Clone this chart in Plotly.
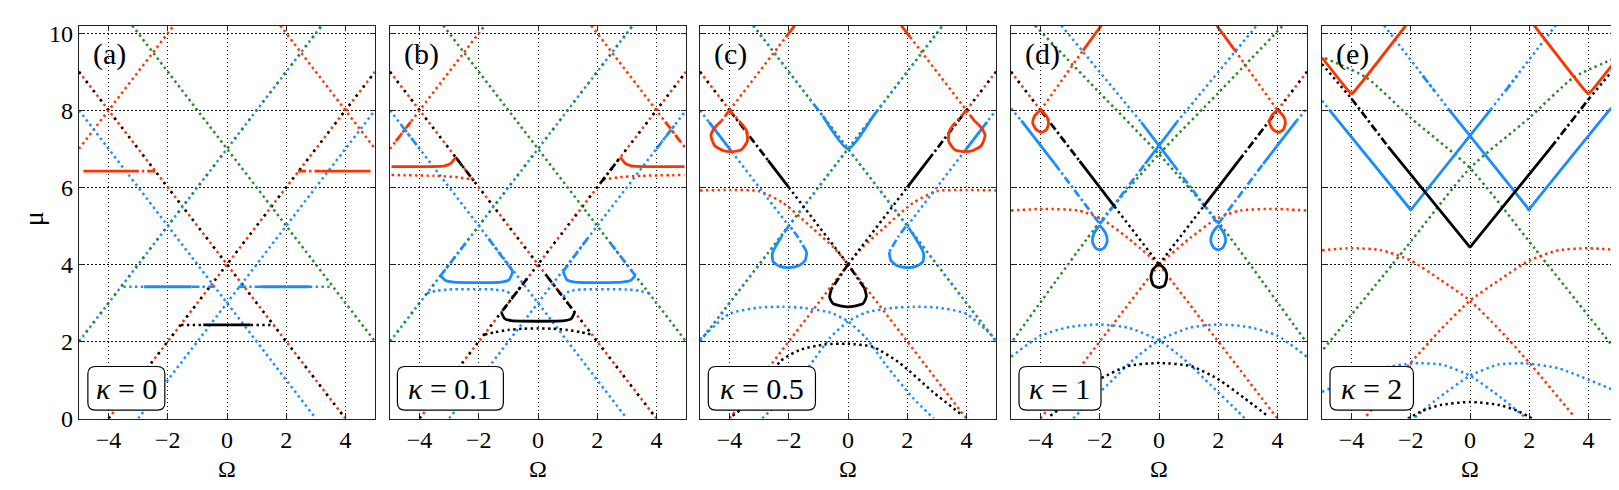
import plotly.graph_objects as go

RED = "#FF3300"
BLUE = "#1A8CFF"
GREEN = "#228B22"
BLACK = "#000000"

KAPPAS = ["0", "0.1", "0.5", "1", "2"]
LABELS = ["(a)", "(b)", "(c)", "(d)", "(e)"]
BOX_X = [(-4.70, -2.10), (-4.75, -1.17), (-4.72, -1.10), (-4.73, -1.96), (-4.73, -1.91)]
X_TICKS = [-4, -2, 0, 2, 4]
Y_TICKS = [0, 2, 4, 6, 8, 10]

# ---------------- panel (a), kappa = 0 ----------------
A_RK_DN = ([-5, 4], [9, 0])
A_RK_UP = ([-4, 5], [0, 9])
A_R_UL = ([-5, -1.8], [7, 10.2])
A_R_UR = ([1.8, 5], [10.2, 7])
A_G_DN = ([-3.2, 5], [10.2, 2])
A_BG_UP = ([-5, 3.2], [2, 10.2])
A_B_DN = ([-5, 3], [8, 0])
A_B_UP = ([-3, 5], [0, 8])
A_RH_SOL_L = ([-4.85, -3.25], [6.42, 6.42])
A_RH_DD_L = ([-3.25, -2.4], [6.42, 6.42])
A_RH_DD_R = ([2.4, 3.2], [6.42, 6.42])
A_RH_SOL_R = ([3.2, 4.85], [6.42, 6.42])
A_BH_DOT_L = ([-3.5, -2.8], [3.42, 3.42])
A_BH_SOL_L = ([-2.8, -1.2], [3.42, 3.42])
A_BH_DD_L = ([-1.2, -0.42], [3.42, 3.42])
A_BH_DD_R = ([0.38, 1.15], [3.42, 3.42])
A_BH_SOL_R = ([1.15, 2.8], [3.42, 3.42])
A_BH_DOT_R = ([2.8, 3.55], [3.42, 3.42])
A_KH_DOT_L = ([-1.55, -0.8], [2.43, 2.43])
A_KH_SOL = ([-0.8, 0.8], [2.43, 2.43])
A_KH_DOT_R = ([0.8, 1.6], [2.43, 2.43])

# ---------------- panel (b), kappa = 0.1 ----------------
B_RK_DN = ([-5, 4], [9, 0])
B_RK_UP = ([-4, 5], [0, 9])
B_R_UL = ([-5, -1.8], [7, 10.2])
B_R_UR = ([1.8, 5], [10.2, 7])
B_G_DN = ([-3.2, 5], [10.2, 2])
B_BG_UP = ([-5, 3.2], [2, 10.2])
B_B_DN = ([-5, 3], [8, 0])
B_B_UP = ([-3, 5], [0, 8])
B_R_U_L = ([-4.95, -3.6, -3.15, -2.95, -2.78], [6.54, 6.54, 6.56, 6.62, 6.78])
B_R_U_R = ([2.78, 2.95, 3.15, 3.6, 4.95], [6.78, 6.62, 6.56, 6.54, 6.54])
B_R_DOT_L = ([-4.95, -3.5, -2.7, -2.2], [6.32, 6.3, 6.26, 6.2])
B_R_DOT_R = ([2.2, 2.7, 3.5, 4.95], [6.2, 6.26, 6.3, 6.32])
B_K_DD_L = ([-2.78, -2.1], [6.78, 6.1])
B_K_DD_R = ([2.1, 2.78], [6.1, 6.78])
B_R_DD_UL = ([-4.8, -4.3], [7.2, 7.7])
B_R_DD_UR = ([4.3, 4.8], [7.7, 7.2])
B_B_DD_UL = ([-4.6, -4.0], [7.6, 7.0])
B_B_DD_UR = ([4.0, 4.6], [7.0, 7.6])
B_B_U_L = ([-3.29, -3.12, -2.85, -1.25, -0.98, -0.85], [3.71, 3.58, 3.54, 3.54, 3.6, 3.82])
B_B_U_R = ([0.85, 0.98, 1.25, 2.85, 3.12, 3.29], [3.82, 3.6, 3.54, 3.54, 3.58, 3.71])
B_B_DD_L1 = ([-3.29, -2.4], [3.71, 4.6])
B_B_DD_L2 = ([-0.85, -1.7], [3.82, 4.7])
B_B_DD_R1 = ([0.85, 1.7], [3.82, 4.7])
B_B_DD_R2 = ([3.29, 2.4], [3.71, 4.6])
B_B_DOT_L = ([-3.75, -3.4, -3.0, -1.5, -1.05, -0.85], [3.25, 3.32, 3.35, 3.35, 3.3, 3.15])
B_B_DOT_R = ([0.85, 1.05, 1.5, 3.0, 3.4, 3.75], [3.15, 3.3, 3.35, 3.35, 3.32, 3.25])
B_K_U = ([-1.24, -1.12, -0.9, 0.9, 1.12, 1.24], [2.76, 2.59, 2.54, 2.54, 2.59, 2.76])
B_K_DD_C1 = ([-1.2, -0.3], [2.8, 3.7])
B_K_DD_C2 = ([0.3, 1.2], [3.7, 2.8])
B_K_DOT = ([-1.8, -1.45, -1.0, -0.5, 0, 0.5, 1.0, 1.45, 1.8],
           [2.18, 2.24, 2.3, 2.33, 2.34, 2.33, 2.3, 2.24, 2.18])

# ---------------- panel (c), kappa = 0.5 ----------------
C_RK_UL = ([-5, -4], [9, 8])
C_K_DD_1 = ([-4, -2.7], [8, 6.7])
C_K_SOL_1 = ([-2.7, -2], [6.7, 6])
C_K_DOT_1 = ([-2, 0], [6, 4])
C_K_DOT_2 = ([0, 2], [4, 6])
C_K_SOL_2 = ([2, 2.7], [6, 6.7])
C_K_DD_2 = ([2.7, 4], [6.7, 8])
C_RK_UR = ([4, 5], [8, 9])
C_R_DN_LO = ([0, 4], [4, 0])
C_R_UP_LO = ([-4, 0], [0, 4])
C_R_UL_DOT = ([-4, -2.1], [8, 9.9])
C_R_UL_SOL = ([-2.1, -1.8], [9.9, 10.2])
C_R_UR_SOL = ([1.8, 2.1], [10.2, 9.9])
C_R_UR_DOT = ([2.1, 4], [9.9, 8])
C_R_ARCH_L = ([-5, -4, -3, -2.2, -1.2, -0.5, 0], [5.92, 5.93, 5.9, 5.6, 4.94, 4.45, 4.0])
C_R_ARCH_R = ([0, 0.5, 1.2, 2.2, 3, 4, 5], [4.0, 4.45, 4.94, 5.6, 5.9, 5.93, 5.92])
C_R_LOOP_L = ([-4.28, -4.5, -4.63, -4.5, -4.2, -3.9, -3.6, -3.4, -3.42, -3.5],
              [7.72, 7.55, 7.35, 7.08, 6.95, 6.93, 6.98, 7.2, 7.45, 7.57])
C_R_LOOP_L_DD1 = ([-4, -4.28], [8, 7.72])
C_R_LOOP_L_DD2 = ([-3.5, -4], [7.57, 8])
C_R_LOOP_R = ([3.5, 3.42, 3.4, 3.6, 3.9, 4.2, 4.5, 4.63, 4.5, 4.28],
              [7.57, 7.45, 7.2, 6.98, 6.93, 6.95, 7.08, 7.35, 7.55, 7.72])
C_R_LOOP_R_DD1 = ([4, 3.5], [8, 7.57])
C_R_LOOP_R_DD2 = ([4.28, 4], [7.72, 8])
C_B_SOL_L = ([-4.7, -3.95], [7.7, 6.95])
C_B_SOL_R = ([3.95, 4.7], [6.95, 7.7])
C_B_DN_U = ([-5, -2], [8, 5])
C_B_UP_U = ([2, 5], [5, 8])
C_G_DN = ([-3.2, 5], [10.2, 2])
C_G_UP = ([-5, 3.2], [2, 10.2])
C_B_V = ([-0.85, 0, 0.85], [7.85, 7.0, 7.85])
C_B_V_DD_L = ([-1.15, -0.85], [8.15, 7.85])
C_B_V_DD_R = ([0.85, 1.15], [7.85, 8.15])
C_B_LOOP_L = ([-2.25, -2.55, -2.53, -2.3, -1.97, -1.65, -1.45, -1.39],
              [4.72, 4.3, 4.07, 3.95, 3.92, 3.97, 4.1, 4.32])
C_B_LOOP_L_DD1 = ([-2.0, -2.25], [5.0, 4.72])
C_B_LOOP_L_DD2 = ([-1.39, -1.7, -1.95], [4.32, 4.72, 4.98])
C_B_LOOP_R = ([1.39, 1.45, 1.65, 1.97, 2.3, 2.53, 2.55, 2.25],
              [4.32, 4.1, 3.97, 3.92, 3.95, 4.07, 4.3, 4.72])
C_B_LOOP_R_DD1 = ([1.95, 1.7, 1.39], [4.98, 4.72, 4.32])
C_B_LOOP_R_DD2 = ([2.25, 2.0], [4.72, 5.0])
C_K_LOOP = ([-0.56, -0.62, -0.5, 0, 0.5, 0.62, 0.56], [3.36, 3.15, 2.98, 2.9, 2.98, 3.17, 3.38])
C_K_LOOP_DD1 = ([0, -0.56], [4, 3.36])
C_K_LOOP_DD2 = ([0.56, 0], [3.38, 4])
C_B_ARCH_L = ([-5, -4, -3, -2.2, -1.5, -0.6, 0, 0.6, 1.3, 2.2, 2.9],
              [2.05, 2.72, 2.88, 2.9, 2.87, 2.75, 2.52, 2.1, 1.37, 0.53, 0.0])
C_B_ARCH_R = ([-2.9, -2.2, -1.3, -0.6, 0, 0.6, 1.5, 2.2, 3, 4, 5],
              [0.0, 0.53, 1.37, 2.1, 2.52, 2.75, 2.87, 2.9, 2.88, 2.72, 2.05])
C_K_ARCH = ([-3.9, -2.9, -2.3, -1.63, -0.8, 0, 0.84, 1.75, 2.87, 3.89],
            [0.07, 0.69, 1.48, 1.78, 1.92, 1.94, 1.86, 1.44, 0.69, 0.07])

# ---------------- panel (d), kappa = 1 ----------------
D_RK_UL = ([-5, -4], [9, 8])
D_K_DD_1 = ([-4, -2.68], [8, 6.68])
D_K_SOL_1 = ([-2.68, -1.5], [6.68, 5.5])
D_K_DOT_1 = ([-1.5, 0], [5.5, 4.0])
D_K_DOT_2 = ([0, 1.5], [4.0, 5.5])
D_K_SOL_2 = ([1.5, 2.68], [5.5, 6.68])
D_K_DD_2 = ([2.68, 4], [6.68, 8])
D_RK_UR = ([4, 5], [8, 9])
D_R_DN_LO = ([0, 4], [4, 0])
D_R_UP_LO = ([-4, 0], [0, 4])
D_R_UL_DOT = ([-4, -2.57], [8, 9.55])
D_R_UL_SOL = ([-2.57, -1.95], [9.55, 10.2])
D_R_UR_SOL = ([1.95, 2.57], [10.2, 9.55])
D_R_UR_DOT = ([2.57, 4], [9.55, 8])
D_R_LOOP_L = ([-4, -4.2, -4.27, -4.15, -3.97, -3.8, -3.73, -3.8, -4],
              [8, 7.85, 7.68, 7.5, 7.43, 7.5, 7.68, 7.85, 8])
D_R_LOOP_R = ([4, 3.8, 3.73, 3.85, 4.03, 4.2, 4.27, 4.2, 4],
              [8, 7.85, 7.68, 7.5, 7.43, 7.5, 7.68, 7.85, 8])
D_R_ARCH_L = ([-5, -3.9, -2.75, -1.96, -1.06, 0], [5.4, 5.44, 5.4, 5.19, 4.69, 4.0])
D_R_ARCH_R = ([0, 1.06, 1.96, 2.75, 3.9, 5], [4.0, 4.69, 5.19, 5.4, 5.44, 5.4])
D_B_DOT_L = ([-5, -4.65], [8.05, 7.73])
D_B_SOL_L = ([-4.65, -3.52], [7.73, 6.61])
D_B_DD_L = ([-3.52, -2.0], [6.61, 5.05])
D_B_DOT_R = ([4.65, 5], [7.73, 8.05])
D_B_SOL_R = ([3.52, 4.65], [6.61, 7.73])
D_B_DD_R = ([2.0, 3.52], [5.05, 6.61])
D_B_X1_DOT = ([-3.3, -0.6], [10.2, 7.69])
D_B_X1_SOL = ([-0.6, 0.47], [7.69, 6.61])
D_B_X1_DD = ([0.47, 2.0], [6.61, 5.05])
D_B_X2_DOT = ([0.6, 3.3], [7.69, 10.2])
D_B_X2_SOL = ([-0.47, 0.6], [6.61, 7.69])
D_B_X2_DD = ([-2.0, -0.47], [5.05, 6.61])
D_B_LOOP_L = ([-2, -2.2, -2.25, -2.15, -2, -1.85, -1.75, -1.8, -2],
              [5.0, 4.8, 4.6, 4.43, 4.38, 4.43, 4.6, 4.8, 5.0])
D_B_LOOP_R = ([2, 1.8, 1.75, 1.85, 2, 2.15, 2.25, 2.2, 2],
              [5.0, 4.8, 4.6, 4.43, 4.38, 4.43, 4.6, 4.8, 5.0])
D_K_LOOP = ([0, -0.22, -0.27, -0.18, 0, 0.18, 0.26, 0.22, 0],
            [4.0, 3.85, 3.65, 3.45, 3.4, 3.45, 3.65, 3.85, 4.0])
D_G_A = ([-4.19, -2, 0, 2, 4.93], [10.2, 8.45, 6.86, 5.1, 2.03])
D_G_B = ([-4.93, -2, 0, 2, 4.19], [2.03, 5.1, 6.86, 8.45, 10.2])
D_B_ARCH_L = ([-5, -4, -3, -2, -1.06, 0, 0.86, 1.76, 2.66, 2.9],
              [1.6, 2.15, 2.38, 2.44, 2.36, 2.03, 1.53, 0.86, 0.19, 0.0])
D_B_ARCH_R = ([-2.9, -2.66, -1.76, -0.86, 0, 1.06, 2, 3, 4, 5],
              [0.0, 0.19, 0.86, 1.53, 2.03, 2.36, 2.44, 2.38, 2.15, 1.6])
D_K_ARCH = ([-3.67, -2.88, -1.98, -1.06, 0, 1.08, 1.98, 2.88, 3.67],
            [0.07, 0.53, 1.03, 1.36, 1.44, 1.36, 1.03, 0.53, 0.07])

# ---------------- panel (e), kappa = 2 ----------------
E_R_V_L = ([-5, -4.1, -4, -3.9, -2.17], [9.37, 8.5, 8.43, 8.5, 10.2])
E_R_V_R = ([2.17, 3.9, 4, 4.1, 5], [10.2, 8.5, 8.43, 8.5, 9.37])
E_K_DOT_L = ([-5, -4], [9.2, 8.3])
E_K_DD_L = ([-4, -2.74], [8.3, 7.03])
E_K_V = ([-2.74, -0.08, 0, 0.08, 2.73], [7.03, 4.52, 4.45, 4.52, 7.03])
E_K_DD_R = ([2.73, 4.02], [7.03, 8.3])
E_K_DOT_R = ([4.02, 5], [8.3, 9.2])
E_B_V_L = ([-4.76, -2.08, -2.0, -1.92, 0.7], [8.02, 5.49, 5.41, 5.49, 8.02])
E_B_V_L_DOT1 = ([0.7, 2.89], [8.02, 10.2])
E_B_V_L_DOT2 = ([-5, -4.76], [8.25, 8.02])
E_B_V_R = ([-0.71, 1.92, 1.99, 2.06, 4.72], [8.02, 5.49, 5.41, 5.49, 8.02])
E_B_V_R_DOT1 = ([-2.9, -0.71], [10.2, 8.02])
E_B_V_R_DOT2 = ([4.72, 5], [8.02, 8.28])
E_B_DD_1 = ([-1.6, -1.2], [8.9, 8.5])
E_B_DD_2 = ([1.2, 1.6], [8.5, 8.9])
E_G_A = ([-4.9, -3.5, -2, 0, 2.2, 4.95], [9.35, 8.85, 7.8, 6.5, 4.4, 1.75])
E_G_B = ([-4.95, -2.2, 0, 2, 3.5, 4.9], [1.8, 4.4, 6.5, 7.8, 8.85, 9.35])
E_R_ARCH_L = ([-5, -4, -3, -2, -1, 0, 1, 2, 3.5], [4.37, 4.42, 4.37, 4.1, 3.6, 3.06, 2.3, 1.45, 0.07])
E_R_ARCH_R = ([-3.5, -2, -1, 0, 1, 2, 3, 4, 5], [0.07, 1.45, 2.3, 3.06, 3.6, 4.1, 4.37, 4.42, 4.37])
E_B_ARCH_L = ([-5, -3, -1.91, -0.96, 0, 1.07, 1.86], [0.69, 1.3, 1.43, 1.4, 1.11, 0.53, 0.03])
E_B_ARCH_R = ([-1.86, -1.07, 0, 0.96, 1.91, 3, 5], [0.03, 0.53, 1.11, 1.4, 1.43, 1.3, 0.69])
E_K_ARCH = ([-2.1, -1.6, -1, 0, 1, 1.6, 2.1], [0.0, 0.2, 0.35, 0.43, 0.35, 0.2, 0.0])

STYLE = {
    "dot": dict(width=2.5, dash="2.4px,3.4px"),
    "dot2": dict(width=2.5, dash="2.4px,9.2px"),
    "sol": dict(width=2.8, dash="solid"),
    "dd": dict(width=2.7, dash="8px,3px,2.4px,3px"),
}

A_CURVES = [
    (A_RK_DN, RED, "dot"), (A_RK_DN, BLACK, "dot2"),
    (A_RK_UP, RED, "dot"), (A_RK_UP, BLACK, "dot2"),
    (A_R_UL, RED, "dot"), (A_R_UR, RED, "dot"),
    (A_G_DN, GREEN, "dot"),
    (A_BG_UP, BLUE, "dot"), (A_BG_UP, GREEN, "dot2"),
    (A_B_DN, BLUE, "dot"), (A_B_UP, BLUE, "dot"),
    (A_RH_SOL_L, RED, "sol"), (A_RH_DD_L, RED, "dd"), (A_RH_DD_R, RED, "dd"), (A_RH_SOL_R, RED, "sol"),
    (A_BH_DOT_L, BLUE, "dot"), (A_BH_SOL_L, BLUE, "sol"), (A_BH_DD_L, BLUE, "dd"),
    (A_BH_DD_R, BLUE, "dd"), (A_BH_SOL_R, BLUE, "sol"), (A_BH_DOT_R, BLUE, "dot"),
    (A_KH_DOT_L, BLACK, "dot"), (A_KH_SOL, BLACK, "sol"), (A_KH_DOT_R, BLACK, "dot"),
]

B_CURVES = [
    (B_RK_DN, RED, "dot"), (B_RK_DN, BLACK, "dot2"),
    (B_RK_UP, RED, "dot"), (B_RK_UP, BLACK, "dot2"),
    (B_R_UL, RED, "dot"), (B_R_UR, RED, "dot"),
    (B_G_DN, GREEN, "dot"),
    (B_BG_UP, BLUE, "dot"), (B_BG_UP, GREEN, "dot2"),
    (B_B_DN, BLUE, "dot"), (B_B_UP, BLUE, "dot"),
    (B_R_DOT_L, RED, "dot"), (B_R_DOT_R, RED, "dot"),
    (B_B_DOT_L, BLUE, "dot"), (B_B_DOT_R, BLUE, "dot"),
    (B_K_DOT, BLACK, "dot"),
    (B_K_DD_L, BLACK, "dd"), (B_K_DD_R, BLACK, "dd"),
    (B_R_DD_UL, RED, "dd"), (B_R_DD_UR, RED, "dd"),
    (B_B_DD_UL, BLUE, "dd"), (B_B_DD_UR, BLUE, "dd"),
    (B_B_DD_L1, BLUE, "dd"), (B_B_DD_L2, BLUE, "dd"), (B_B_DD_R1, BLUE, "dd"), (B_B_DD_R2, BLUE, "dd"),
    (B_K_DD_C1, BLACK, "dd"), (B_K_DD_C2, BLACK, "dd"),
    (B_R_U_L, RED, "sol"), (B_R_U_R, RED, "sol"),
    (B_B_U_L, BLUE, "sol"), (B_B_U_R, BLUE, "sol"),
    (B_K_U, BLACK, "sol"),
]

C_CURVES = [
    (C_RK_UL, RED, "dot"), (C_RK_UL, BLACK, "dot2"),
    (C_RK_UR, RED, "dot"), (C_RK_UR, BLACK, "dot2"),
    (C_R_DN_LO, RED, "dot"), (C_R_UP_LO, RED, "dot"),
    (C_R_UL_DOT, RED, "dot"), (C_R_UR_DOT, RED, "dot"),
    (C_R_ARCH_L, RED, "dot"), (C_R_ARCH_R, RED, "dot"),
    (C_G_DN, GREEN, "dot"), (C_G_DN, BLUE, "dot2"),
    (C_G_UP, GREEN, "dot"), (C_G_UP, BLUE, "dot2"),
    (C_B_DN_U, BLUE, "dot"), (C_B_UP_U, BLUE, "dot"),
    (C_B_ARCH_L, BLUE, "dot"), (C_B_ARCH_R, BLUE, "dot"),
    (C_K_ARCH, BLACK, "dot"),
    (C_K_DOT_1, BLACK, "dot"), (C_K_DOT_2, BLACK, "dot"),
    (C_K_DD_1, BLACK, "dd"), (C_K_DD_2, BLACK, "dd"),
    (C_K_SOL_1, BLACK, "sol"), (C_K_SOL_2, BLACK, "sol"),
    (C_R_UL_SOL, RED, "sol"), (C_R_UR_SOL, RED, "sol"),
    (C_B_SOL_L, BLUE, "sol"), (C_B_SOL_R, BLUE, "sol"),
    (C_R_LOOP_L, RED, "sol"), (C_R_LOOP_L_DD1, RED, "dd"), (C_R_LOOP_L_DD2, RED, "dd"),
    (C_R_LOOP_R, RED, "sol"), (C_R_LOOP_R_DD1, RED, "dd"), (C_R_LOOP_R_DD2, RED, "dd"),
    (C_B_V, BLUE, "sol"), (C_B_V_DD_L, BLUE, "dd"), (C_B_V_DD_R, BLUE, "dd"),
    (C_B_LOOP_L, BLUE, "sol"), (C_B_LOOP_L_DD1, BLUE, "dd"), (C_B_LOOP_L_DD2, BLUE, "dd"),
    (C_B_LOOP_R, BLUE, "sol"), (C_B_LOOP_R_DD1, BLUE, "dd"), (C_B_LOOP_R_DD2, BLUE, "dd"),
    (C_K_LOOP, BLACK, "sol"), (C_K_LOOP_DD1, BLACK, "dd"), (C_K_LOOP_DD2, BLACK, "dd"),
]

D_CURVES = [
    (D_RK_UL, RED, "dot"), (D_RK_UL, BLACK, "dot2"),
    (D_RK_UR, RED, "dot"), (D_RK_UR, BLACK, "dot2"),
    (D_R_DN_LO, RED, "dot"), (D_R_UP_LO, RED, "dot"),
    (D_R_UL_DOT, RED, "dot"), (D_R_UR_DOT, RED, "dot"),
    (D_R_ARCH_L, RED, "dot"), (D_R_ARCH_R, RED, "dot"),
    (D_G_A, GREEN, "dot"), (D_G_B, GREEN, "dot"),
    (D_B_DOT_L, BLUE, "dot"), (D_B_DOT_R, BLUE, "dot"),
    (D_B_X1_DOT, BLUE, "dot"), (D_B_X2_DOT, BLUE, "dot"),
    (D_B_ARCH_L, BLUE, "dot"), (D_B_ARCH_R, BLUE, "dot"),
    (D_K_ARCH, BLACK, "dot"),
    (D_K_DOT_1, BLACK, "dot"), (D_K_DOT_2, BLACK, "dot"),
    (D_K_DD_1, BLACK, "dd"), (D_K_DD_2, BLACK, "dd"),
    (D_B_DD_L, BLUE, "dd"), (D_B_DD_R, BLUE, "dd"),
    (D_B_X1_DD, BLUE, "dd"), (D_B_X2_DD, BLUE, "dd"),
    (D_K_SOL_1, BLACK, "sol"), (D_K_SOL_2, BLACK, "sol"),
    (D_R_UL_SOL, RED, "sol"), (D_R_UR_SOL, RED, "sol"),
    (D_B_SOL_L, BLUE, "sol"), (D_B_SOL_R, BLUE, "sol"),
    (D_B_X1_SOL, BLUE, "sol"), (D_B_X2_SOL, BLUE, "sol"),
    (D_R_LOOP_L, RED, "sol"), (D_R_LOOP_R, RED, "sol"),
    (D_B_LOOP_L, BLUE, "sol"), (D_B_LOOP_R, BLUE, "sol"),
    (D_K_LOOP, BLACK, "sol"),
]

E_CURVES = [
    (E_G_A, GREEN, "dot"), (E_G_B, GREEN, "dot"),
    (E_R_ARCH_L, RED, "dot"), (E_R_ARCH_R, RED, "dot"),
    (E_B_ARCH_L, BLUE, "dot"), (E_B_ARCH_R, BLUE, "dot"),
    (E_K_ARCH, BLACK, "dot"),
    (E_K_DOT_L, BLACK, "dot"), (E_K_DOT_R, BLACK, "dot"),
    (E_K_DD_L, BLACK, "dd"), (E_K_DD_R, BLACK, "dd"),
    (E_B_V_L_DOT1, BLUE, "dot"), (E_B_V_L_DOT2, BLUE, "dot"),
    (E_B_V_R_DOT1, BLUE, "dot"), (E_B_V_R_DOT2, BLUE, "dot"),
    (E_B_DD_1, BLUE, "dd"), (E_B_DD_2, BLUE, "dd"),
    (E_R_V_L, RED, "sol"), (E_R_V_R, RED, "sol"),
    (E_B_V_L, BLUE, "sol"), (E_B_V_R, BLUE, "sol"),
    (E_K_V, BLACK, "sol"),
]

PANEL_CURVES = [A_CURVES, B_CURVES, C_CURVES, D_CURVES, E_CURVES]

# ---------------- layout geometry (pixels) ----------------
FIG_W, FIG_H = 1619, 490
PANEL_LEFT = [71, 382, 692, 1003, 1314]
PANEL_W = 296
PANEL_TOP, PANEL_BOTTOM = 13, 421
SERIF = "Liberation Serif"


def rbox(x0, x1, y0, y1, rx=0.26, ry=0.19):
    return (f"M {x0 + rx},{y0} L {x1 - rx},{y0} Q {x1},{y0} {x1},{y0 + ry} "
            f"L {x1},{y1 - ry} Q {x1},{y1} {x1 - rx},{y1} L {x0 + rx},{y1} "
            f"Q {x0},{y1} {x0},{y1 - ry} L {x0},{y0 + ry} Q {x0},{y0} {x0 + rx},{y0} Z")


fig = go.Figure()
annotations = []
shapes = []
layout_axes = {}

for i in range(5):
    n = i + 1
    xa = "x" if n == 1 else f"x{n}"
    ya = "y" if n == 1 else f"y{n}"
    for (xs, ys), color, sty in PANEL_CURVES[i]:
        fig.add_trace(go.Scatter(
            x=xs, y=ys, mode="lines", xaxis=xa, yaxis=ya,
            line=dict(color=color, width=STYLE[sty]["width"], dash=STYLE[sty]["dash"],
                      shape="spline", smoothing=0.6),
            hoverinfo="skip", showlegend=False))

    x0 = PANEL_LEFT[i] / FIG_W
    x1 = (PANEL_LEFT[i] + PANEL_W) / FIG_W
    common = dict(showline=True, linecolor="#222", linewidth=1.2, mirror="allticks",
                  ticks="inside", ticklen=5, tickwidth=1, tickcolor="#222",
                  showgrid=True, gridcolor="#111", gridwidth=0.8, griddash="1.5px,2.5px",
                  zeroline=False, tickfont=dict(family=SERIF, size=24, color="#000"))
    layout_axes["xaxis" if n == 1 else f"xaxis{n}"] = dict(
        domain=[x0, x1], range=[-5, 5], anchor=ya, tickvals=X_TICKS, **common)
    layout_axes["yaxis" if n == 1 else f"yaxis{n}"] = dict(
        domain=[1 - PANEL_BOTTOM / FIG_H, 1 - PANEL_TOP / FIG_H], range=[0, 10.2],
        anchor=xa, tickvals=Y_TICKS, showticklabels=(n == 1), **common)

    bx0, bx1 = BOX_X[i]
    shapes.append(dict(type="path", path=rbox(bx0, bx1, 0.22, 1.35), xref=xa, yref=ya,
                       line=dict(color="#000", width=1.2), fillcolor="white", layer="above"))
    annotations.append(dict(x=(bx0 + bx1) / 2, y=0.79, xref=xa, yref=ya,
                            xanchor="center", yanchor="middle",
                            text=f"<i>κ</i> = {KAPPAS[i]}", showarrow=False,
                            font=dict(family=SERIF, size=30, color="#000")))
    annotations.append(dict(x=-4.6, y=9.45, xref=xa, yref=ya, xanchor="left", yanchor="middle",
                            text=LABELS[i], showarrow=False,
                            font=dict(family=SERIF, size=30, color="#000")))
    annotations.append(dict(x=(PANEL_LEFT[i] + PANEL_W / 2) / FIG_W, y=1 - 473 / FIG_H,
                            xref="paper", yref="paper", xanchor="center", yanchor="middle",
                            text="Ω", showarrow=False,
                            font=dict(family=SERIF, size=24, color="#000")))

annotations.append(dict(x=25 / FIG_W, y=1 - 214 / FIG_H, xref="paper", yref="paper",
                        xanchor="center", yanchor="middle",
                        text="μ", textangle=-90, showarrow=False,
                        font=dict(family=SERIF, size=28, color="#000")))

fig.update_layout(width=FIG_W, height=FIG_H, margin=dict(l=0, r=0, t=0, b=0),
                  paper_bgcolor="white", plot_bgcolor="white",
                  annotations=annotations, shapes=shapes, **layout_axes)

fig.write_html("out.html")
